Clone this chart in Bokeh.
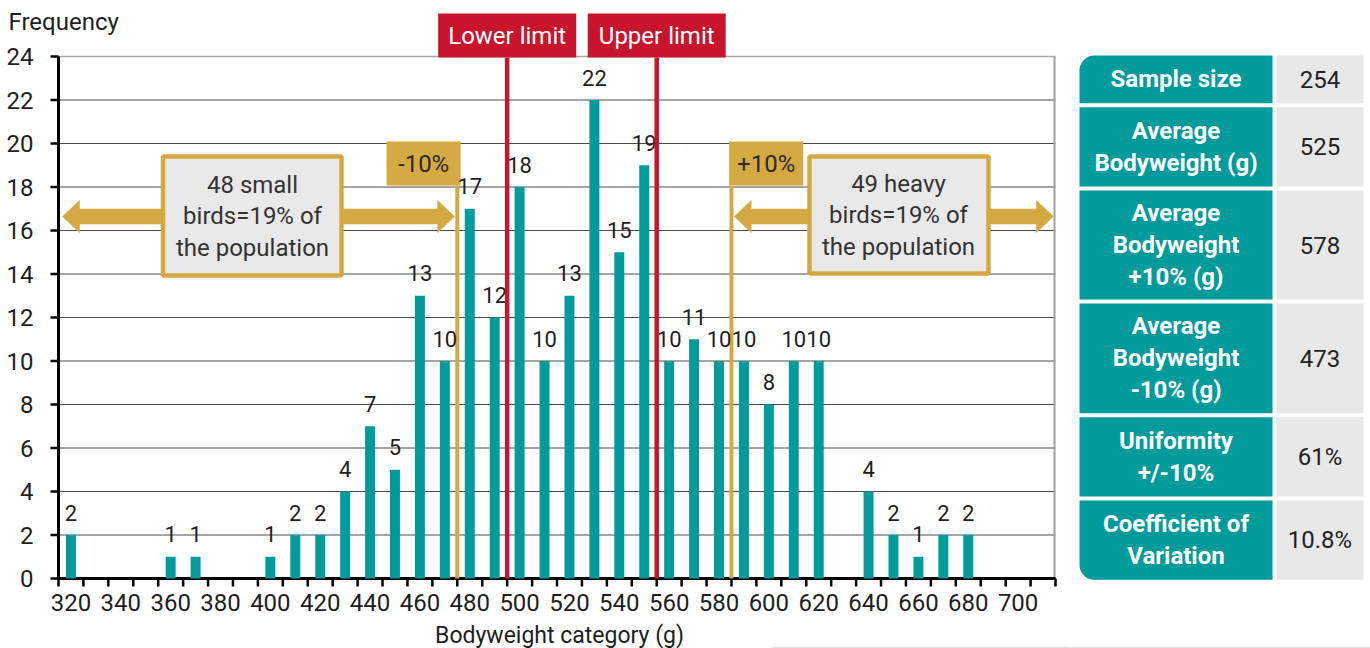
from bokeh.plotting import figure
from bokeh.layouts import row
from bokeh.models import Range1d
from bokeh.core.properties import value
from bokeh.embed import file_html
from bokeh.resources import INLINE

# ---------------- data ----------------
categories = [320, 360, 370, 400, 410, 420, 430, 440, 450, 460, 470, 480, 490, 500,
              510, 520, 530, 540, 550, 560, 570, 580, 590, 600, 610, 620, 640, 650,
              660, 670, 680]
counts = [2, 1, 1, 1, 2, 2, 4, 7, 5, 13, 10, 17, 12, 18, 10, 13, 22, 15, 19, 10, 11,
          10, 10, 8, 10, 10, 4, 2, 1, 2, 2]
x_tick_labels = [320, 340, 360, 380, 400, 420, 440, 460, 480, 500, 520, 540, 560,
                 580, 600, 620, 640, 660, 680, 700]
x_boundaries = [315, 325, 335, 345, 355, 365, 375, 385, 395, 405, 415, 425, 435, 445,
                455, 465, 475, 485, 495, 505, 515, 525, 535, 545, 555, 565, 575, 585,
                595, 605, 615, 625, 635, 645, 655, 665, 675, 685, 695, 705, 715]
y_ticks = [0, 2, 4, 6, 8, 10, 12, 14, 16, 18, 20, 22, 24]

minus10_line = 475
lower_limit = 495
upper_limit = 555
plus10_line = 585

x_title = "Bodyweight category (g)"
y_title = "Frequency"
small_text = "48 small\nbirds=19% of\nthe population"
heavy_text = "49 heavy\nbirds=19% of\nthe population"

table_labels = ["Sample size", "Average\nBodyweight (g)", "Average\nBodyweight\n+10% (g)",
                "Average\nBodyweight\n-10% (g)", "Uniformity\n+/-10%",
                "Coefficient of\nVariation"]
table_values = ["254", "525", "578", "473", "61%", "10.8%"]

# ---------------- style ----------------
FONT = "Roboto"
TEAL = "#009B9A"
GOLD = "#D5A941"
RED = "#C8142C"
BOXFILL = "#E9E9E9"
TXT = "#1E1E1E"

X0, X1 = 315, 715          # x axis extent (category boundaries)
PX0, PX1 = 58, 1055        # pixel position of the x axis ends
PY0 = 578                  # pixel row of y = 0
SY = 21.75                 # pixels per frequency unit
SX = (PX1 - PX0) / (X1 - X0)
W, H = 1070, 648


def dx(px):
    return X0 + (px - PX0) / SX


def dy(py):
    return (PY0 - py) / SY


p = figure(width=W, height=H, x_range=Range1d(dx(0), dx(W)), y_range=Range1d(dy(H), dy(0)),
           output_backend="svg", toolbar_location=None, x_axis_location=None,
           y_axis_location=None, min_border=0, outline_line_color=None,
           background_fill_color="white", border_fill_color="white")
p.grid.visible = False

n = len(y_ticks)
# horizontal grid lines
p.segment(x0=[X0] * (n - 1), y0=y_ticks[:-1], x1=[X1] * (n - 1), y1=y_ticks[:-1],
          line_color="#4a4a4a", line_width=1)
p.segment(x0=[X0], y0=[y_ticks[-1]], x1=[X1], y1=[y_ticks[-1]], line_color="#A8A8A8",
          line_width=1.5)
p.segment(x0=[X1 - 0.4], y0=[0], x1=[X1 - 0.4], y1=[y_ticks[-1]], line_color="#A0A0A0",
          line_width=2)

# ---- y axis
p.segment(x0=[X0], y0=[0], x1=[X0], y1=[y_ticks[-1]], line_color="black", line_width=3)
p.segment(x0=[X0 - 8 / SX] * n, y0=y_ticks, x1=[X0] * n, y1=y_ticks,
          line_color="black", line_width=2.5)
p.text(x=[X0 - 25 / SX] * n, y=y_ticks, text=[str(v) for v in y_ticks],
       text_font=value(FONT), text_font_size="24px", text_color=TXT, text_align="right",
       text_baseline="middle")
p.text(x=[dx(8)], y=[dy(21.5)], text=[y_title], text_font=value(FONT),
       text_font_size="24px", text_color=TXT, text_align="left", text_baseline="middle")

# ---- x axis
nb = len(x_boundaries)
p.segment(x0=[X0 - 1 / SX], y0=[0], x1=[X1], y1=[0], line_color="black", line_width=3)
p.segment(x0=x_boundaries, y0=[0] * nb, x1=x_boundaries, y1=[-8 / SY] * nb,
          line_color="black", line_width=2.5)
p.text(x=x_tick_labels, y=[dy(601.5)] * len(x_tick_labels),
       text=[str(v) for v in x_tick_labels], text_font=value(FONT),
       text_font_size="24px", text_color=TXT, text_align="center", text_baseline="middle")
p.text(x=[dx(559)], y=[dy(634.5)], text=[x_title], text_font=value(FONT),
       text_font_size="23px", text_color=TXT, text_align="center",
       text_baseline="middle")
p.segment(x0=[dx(772)], y0=[dy(647)], x1=[dx(W)], y1=[dy(647)], line_color="#E2E2E2",
          line_width=1.5)


# ---- arrows + boxes
def arrow(xa_, xb_, yc):
    hl = 17 / SX
    sh = 7.5 / SY
    hh = 16 / SY
    xs = [xa_, xa_ + hl, xa_ + hl, xb_ - hl, xb_ - hl, xb_, xb_ - hl, xb_ - hl, xa_ + hl, xa_ + hl]
    ys = [yc, yc + hh, yc + sh, yc + sh, yc + hh, yc, yc - hh, yc - sh, yc - sh, yc - hh]
    return xs, ys


yc = dy(216)
ax1, ay1 = arrow(dx(62), minus10_line - 2.7 / SX, yc)
ax2, ay2 = arrow(plus10_line + 2.7 / SX, X1 - 2 / SX, yc)
p.patches(xs=[ax1, ax2], ys=[ay1, ay2], fill_color=GOLD, line_color=GOLD, line_width=0.5)

p.quad(left=[dx(162.5), dx(809)], right=[dx(341), dx(988)], top=[dy(156), dy(156)],
       bottom=[dy(275), dy(273)], fill_color=BOXFILL, line_color=GOLD, line_width=4.5)
p.text(x=[dx(252), dx(898)], y=[dy(216), dy(215)], text=[small_text, heavy_text],
       text_font=value(FONT), text_font_size="24px", text_color="#333333",
       text_align="center", text_baseline="middle", text_line_height=1.14)

# ---- gold -/+10% lines and tags
p.segment(x0=[minus10_line, plus10_line], y0=[0, 0], x1=[minus10_line, plus10_line],
          y1=[dy(185), dy(185)], line_color=GOLD, line_width=4)
p.quad(left=[minus10_line - 70.7 / SX, plus10_line - 2.3 / SX],
       right=[minus10_line + 3.3 / SX, plus10_line + 71.7 / SX],
       top=[dy(141), dy(141)], bottom=[dy(185), dy(185)], fill_color=GOLD, line_color=None)
p.text(x=[minus10_line - 33.7 / SX, plus10_line + 34.7 / SX], y=[dy(163), dy(163)],
       text=["-10%", "+10%"], text_font=value(FONT), text_font_size="24px",
       text_color="#2a2a2a", text_align="center", text_baseline="middle")

# ---- bars
p.vbar(x=categories, top=counts, width=4, fill_color=TEAL, line_color=None)
p.text(x=categories, y=[c + 22.5 / SY for c in counts], text=[str(c) for c in counts],
       text_font=value(FONT), text_font_size="22px", text_color=TXT, text_align="center",
       text_baseline="middle")

# ---- red limit lines and tags
p.segment(x0=[lower_limit, upper_limit], y0=[0, 0], x1=[lower_limit, upper_limit],
          y1=[dy(57), dy(57)], line_color=RED, line_width=4.5)
hw = 69 / SX
p.quad(left=[lower_limit - hw, upper_limit - hw], right=[lower_limit + hw, upper_limit + hw],
       top=[dy(13), dy(13)], bottom=[dy(57), dy(57)], fill_color=RED, line_color=None)
p.text(x=[lower_limit, upper_limit], y=[dy(35.5), dy(35.5)],
       text=["Lower limit", "Upper limit"], text_font=value(FONT), text_font_size="24px",
       text_color="white", text_align="center", text_baseline="middle")

# ---------------- table ----------------
TW = 300
t = figure(width=TW, height=H, x_range=Range1d(0, TW), y_range=Range1d(0, H),
           output_backend="svg", toolbar_location=None, min_border=0,
           x_axis_location=None, y_axis_location=None,
           outline_line_color=None, background_fill_color="white",
           border_fill_color="white")
t.grid.visible = False

row_tops = [55, 106.7, 190, 303, 416.7, 500]
row_bottoms = [102.7, 186, 299, 412.7, 496, 579.3]
c1l, c1r, c2l, c2r = 9, 202, 206, 293

for i in range(len(table_labels)):
    top = H - row_tops[i]
    bot = H - row_bottoms[i]
    if i == 0:
        br = (15, 0, 0, 0)
    elif i == len(table_labels) - 1:
        br = (0, 0, 0, 15)
    else:
        br = 0
    t.quad(left=[c1l], right=[c1r], top=[top], bottom=[bot], fill_color=TEAL,
           line_color=None, border_radius=br)
    t.quad(left=[c2l], right=[c2r], top=[top], bottom=[bot], fill_color="#E8E8E8",
           line_color=None)

mids = [H - (a + b) / 2 for a, b in zip(row_tops, row_bottoms)]
t.text(x=[(c1l + c1r) / 2] * len(mids), y=mids, text=table_labels, text_font=value(FONT),
       text_font_size="24px", text_font_style="bold", text_color="white",
       text_align="center", text_baseline="middle", text_line_height=1.14)
t.text(x=[(c2l + c2r) / 2] * len(mids), y=mids, text=table_values, text_font=value(FONT),
       text_font_size="24px", text_color="#222222", text_align="center",
       text_baseline="middle")
t.segment(x0=[0], y0=[H - 647], x1=[TW], y1=[H - 647], line_color="#E2E2E2", line_width=1.5)

layout = row(p, t, spacing=0)
open("out.html", "w").write(file_html(layout, INLINE))
